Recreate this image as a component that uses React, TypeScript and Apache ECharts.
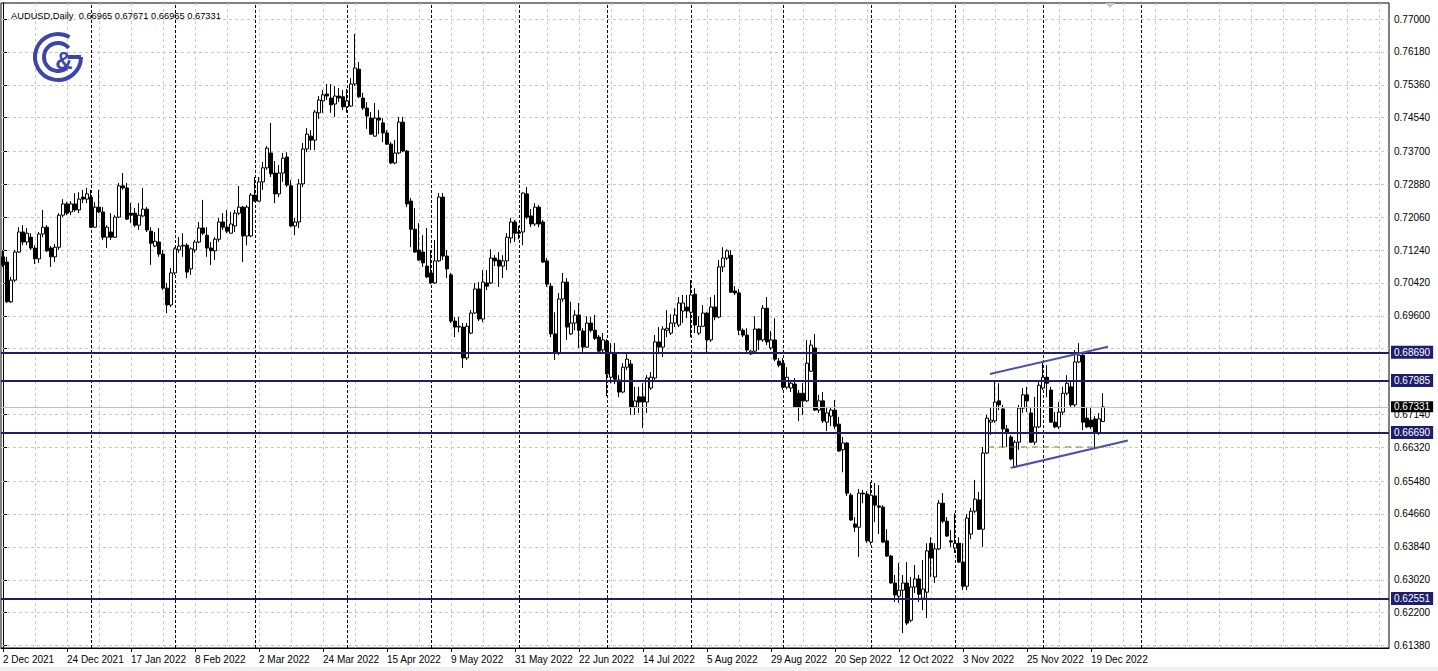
import React, { useEffect, useRef } from "react";
import * as echarts from "echarts";

const FONT = "'Liberation Sans', Arial, sans-serif";

const symbolTitle = "AUDUSD,Daily";
const lastQuote = [0.66965, 0.67671, 0.66965, 0.67331];

// Daily bars from 2 Dec 2021, one per weekday: [open, high, low, close]
const ohlc: number[][] = [
  [0.7107, 0.7124, 0.7082, 0.7087], [0.7094, 0.7107, 0.6992, 0.6995], [0.6995, 0.7057, 0.6992, 0.7049], [0.7049, 0.7124, 0.7044, 0.7119],
  [0.7119, 0.7181, 0.7117, 0.7169], [0.7169, 0.7186, 0.7136, 0.7144], [0.7144, 0.7179, 0.7136, 0.7166], [0.7156, 0.7166, 0.7124, 0.7129],
  [0.7129, 0.7136, 0.7089, 0.7102], [0.7102, 0.7169, 0.7092, 0.7164], [0.7164, 0.7224, 0.7156, 0.7181], [0.7181, 0.7186, 0.7119, 0.7122],
  [0.7129, 0.7134, 0.7082, 0.7107], [0.7107, 0.7139, 0.7094, 0.7131], [0.7131, 0.7216, 0.7124, 0.7211], [0.7211, 0.7251, 0.7206, 0.7239],
  [0.7239, 0.7244, 0.7211, 0.7216], [0.7219, 0.7246, 0.7211, 0.7239], [0.7239, 0.7266, 0.7219, 0.7224], [0.7224, 0.7268, 0.7216, 0.7251],
  [0.7256, 0.7274, 0.7241, 0.7251], [0.7251, 0.7279, 0.7241, 0.7264], [0.7256, 0.7274, 0.7179, 0.7181], [0.7181, 0.7244, 0.7179, 0.7231],
  [0.7231, 0.7274, 0.7216, 0.7219], [0.7219, 0.7231, 0.7149, 0.7156], [0.7156, 0.7186, 0.7129, 0.7181], [0.7169, 0.7216, 0.7149, 0.7156],
  [0.7156, 0.7211, 0.7154, 0.7206], [0.7206, 0.7291, 0.7204, 0.7284], [0.7284, 0.7316, 0.7274, 0.7279], [0.7279, 0.7291, 0.7199, 0.7201],
  [0.7216, 0.7241, 0.7191, 0.7211], [0.7216, 0.7229, 0.7181, 0.7186], [0.7186, 0.7241, 0.7174, 0.7211], [0.7209, 0.7279, 0.7206, 0.7226],
  [0.7226, 0.7231, 0.7169, 0.7174], [0.7171, 0.7181, 0.7087, 0.7141], [0.7134, 0.7169, 0.7131, 0.7146], [0.7144, 0.7179, 0.7107, 0.7114],
  [0.7114, 0.7124, 0.7024, 0.7029], [0.7029, 0.7042, 0.6967, 0.6987], [0.6987, 0.7079, 0.6982, 0.7067], [0.7067, 0.7131, 0.7062, 0.7127],
  [0.7124, 0.7156, 0.7117, 0.7134], [0.7134, 0.7166, 0.7107, 0.7136], [0.7136, 0.7141, 0.7054, 0.7069], [0.7077, 0.7131, 0.7062, 0.7127],
  [0.7124, 0.7149, 0.7117, 0.7144], [0.7144, 0.7194, 0.7141, 0.7179], [0.7179, 0.7249, 0.7161, 0.7166], [0.7161, 0.7181, 0.7107, 0.7129],
  [0.7129, 0.7144, 0.7087, 0.7122], [0.7122, 0.7156, 0.7099, 0.7151], [0.7151, 0.7204, 0.7144, 0.7194], [0.7194, 0.7216, 0.7174, 0.7181],
  [0.7181, 0.7224, 0.7166, 0.7171], [0.7166, 0.7219, 0.7166, 0.7189], [0.7184, 0.7224, 0.7169, 0.7216], [0.7216, 0.7284, 0.7211, 0.7231],
  [0.7231, 0.7234, 0.7094, 0.7159], [0.7159, 0.7236, 0.7136, 0.7231], [0.7159, 0.7266, 0.7156, 0.7261], [0.7261, 0.7306, 0.7244, 0.7246],
  [0.7246, 0.7306, 0.7244, 0.7294], [0.7294, 0.7344, 0.7274, 0.7329], [0.7329, 0.7383, 0.7324, 0.7378], [0.7366, 0.7441, 0.7306, 0.7314],
  [0.7316, 0.7346, 0.7241, 0.7264], [0.7264, 0.7336, 0.7256, 0.7316], [0.7316, 0.7366, 0.7294, 0.7353], [0.7356, 0.7368, 0.7281, 0.7286],
  [0.7284, 0.7299, 0.7181, 0.7184], [0.7184, 0.7204, 0.7161, 0.7194], [0.7194, 0.7301, 0.7179, 0.7289], [0.7289, 0.7391, 0.7281, 0.7376],
  [0.7376, 0.7428, 0.7368, 0.7413], [0.7408, 0.7423, 0.7373, 0.7398], [0.7398, 0.7473, 0.7373, 0.7468], [0.7466, 0.7508, 0.7451, 0.7498],
  [0.7496, 0.7523, 0.7466, 0.7511], [0.7513, 0.7538, 0.7498, 0.7508], [0.7503, 0.7538, 0.7466, 0.7486], [0.7488, 0.7533, 0.7456, 0.7508],
  [0.7508, 0.7528, 0.7493, 0.7503], [0.7506, 0.7523, 0.7473, 0.7481], [0.7481, 0.7526, 0.7466, 0.7496], [0.7483, 0.7553, 0.7481, 0.7538],
  [0.7538, 0.7663, 0.7533, 0.7578], [0.7575, 0.7593, 0.7503, 0.7506], [0.7503, 0.7516, 0.7473, 0.7478], [0.7478, 0.7493, 0.7426, 0.7458],
  [0.7453, 0.7468, 0.7411, 0.7413], [0.7408, 0.7491, 0.7406, 0.7453], [0.7453, 0.7473, 0.7413, 0.7448], [0.7441, 0.7453, 0.7393, 0.7416],
  [0.7416, 0.7423, 0.7386, 0.7388], [0.7388, 0.7393, 0.7338, 0.7341], [0.7341, 0.7398, 0.7338, 0.7366], [0.7366, 0.7456, 0.7363, 0.7443],
  [0.7443, 0.7456, 0.7368, 0.7371], [0.7371, 0.7373, 0.7231, 0.7239], [0.7246, 0.7254, 0.7131, 0.7176], [0.7176, 0.7229, 0.7117, 0.7119],
  [0.7124, 0.7191, 0.7097, 0.7099], [0.7119, 0.7161, 0.7082, 0.7092], [0.7084, 0.7179, 0.7054, 0.7057], [0.7067, 0.7124, 0.7039, 0.7042],
  [0.7042, 0.7149, 0.7040, 0.7097], [0.7097, 0.7266, 0.7094, 0.7256], [0.7256, 0.7266, 0.7099, 0.7109], [0.7109, 0.7124, 0.7054, 0.7077],
  [0.7062, 0.7067, 0.6942, 0.6947], [0.6947, 0.6957, 0.6907, 0.6932], [0.6932, 0.6957, 0.6919, 0.6934], [0.6932, 0.6942, 0.6830, 0.6855],
  [0.6855, 0.6942, 0.6850, 0.6934], [0.6917, 0.6974, 0.6914, 0.6967], [0.6967, 0.7042, 0.6965, 0.7027], [0.7027, 0.7044, 0.6947, 0.6952],
  [0.6952, 0.7074, 0.6944, 0.7044], [0.7042, 0.7074, 0.7024, 0.7034], [0.7042, 0.7126, 0.7039, 0.7104], [0.7104, 0.7111, 0.7084, 0.7097],
  [0.7099, 0.7119, 0.7032, 0.7084], [0.7084, 0.7111, 0.7054, 0.7097], [0.7097, 0.7166, 0.7074, 0.7156], [0.7154, 0.7204, 0.7141, 0.7194],
  [0.7194, 0.7199, 0.7144, 0.7166], [0.7169, 0.7184, 0.7151, 0.7166], [0.7169, 0.7268, 0.7136, 0.7266], [0.7264, 0.7281, 0.7201, 0.7206],
  [0.7209, 0.7226, 0.7181, 0.7189], [0.7189, 0.7241, 0.7184, 0.7231], [0.7231, 0.7236, 0.7181, 0.7189], [0.7194, 0.7199, 0.7092, 0.7094],
  [0.7097, 0.7104, 0.7032, 0.7039], [0.7034, 0.7042, 0.6907, 0.6915], [0.6915, 0.6969, 0.6850, 0.6867], [0.6867, 0.7017, 0.6862, 0.7002],
  [0.7002, 0.7067, 0.6995, 0.7044], [0.7044, 0.7054, 0.6900, 0.6932], [0.6915, 0.6995, 0.6912, 0.6942], [0.6942, 0.6974, 0.6924, 0.6962],
  [0.6962, 0.6992, 0.6880, 0.6924], [0.6922, 0.6929, 0.6870, 0.6882], [0.6882, 0.6959, 0.6880, 0.6942], [0.6942, 0.6957, 0.6919, 0.6924],
  [0.6924, 0.6962, 0.6900, 0.6904], [0.6907, 0.6912, 0.6870, 0.6872], [0.6875, 0.6917, 0.6867, 0.6900], [0.6897, 0.6902, 0.6760, 0.6815],
  [0.6807, 0.6892, 0.6792, 0.6867], [0.6867, 0.6892, 0.6790, 0.6802], [0.6800, 0.6812, 0.6757, 0.6770], [0.6770, 0.6842, 0.6767, 0.6832],
  [0.6832, 0.6867, 0.6825, 0.6852], [0.6840, 0.6850, 0.6713, 0.6733], [0.6733, 0.6783, 0.6713, 0.6748], [0.6758, 0.6783, 0.6718, 0.6745],
  [0.6758, 0.6792, 0.6680, 0.6745], [0.6745, 0.6812, 0.6718, 0.6805], [0.6780, 0.6820, 0.6775, 0.6807], [0.6805, 0.6912, 0.6800, 0.6895],
  [0.6895, 0.6932, 0.6867, 0.6882], [0.6882, 0.6934, 0.6857, 0.6927], [0.6924, 0.6974, 0.6907, 0.6929], [0.6917, 0.6964, 0.6912, 0.6942],
  [0.6942, 0.6979, 0.6932, 0.6962], [0.6937, 0.7007, 0.6932, 0.6992], [0.6972, 0.7012, 0.6942, 0.6992], [0.6982, 0.7012, 0.6954, 0.6972],
  [0.6969, 0.7049, 0.6907, 0.7012], [0.7014, 0.7029, 0.6917, 0.6937], [0.6917, 0.6959, 0.6912, 0.6934], [0.6934, 0.6987, 0.6932, 0.6967],
  [0.6967, 0.6969, 0.6867, 0.6900], [0.6900, 0.7007, 0.6895, 0.6982], [0.6982, 0.7012, 0.6949, 0.6957], [0.6957, 0.7099, 0.6954, 0.7082],
  [0.7082, 0.7131, 0.7069, 0.7104], [0.7104, 0.7126, 0.7099, 0.7122], [0.7111, 0.7124, 0.7017, 0.7019], [0.7022, 0.7034, 0.7012, 0.7017],
  [0.7017, 0.7027, 0.6912, 0.6924], [0.6924, 0.6929, 0.6907, 0.6912], [0.6912, 0.6929, 0.6870, 0.6875], [0.6865, 0.6875, 0.6862, 0.6872],
  [0.6872, 0.6959, 0.6867, 0.6927], [0.6927, 0.6929, 0.6875, 0.6900], [0.6900, 0.6987, 0.6895, 0.6979], [0.6979, 0.7007, 0.6887, 0.6895],
  [0.6880, 0.6922, 0.6875, 0.6900], [0.6900, 0.6954, 0.6847, 0.6852], [0.6847, 0.6855, 0.6832, 0.6837], [0.6842, 0.6855, 0.6775, 0.6782],
  [0.6782, 0.6832, 0.6777, 0.6807], [0.6780, 0.6800, 0.6770, 0.6792], [0.6790, 0.6805, 0.6730, 0.6733], [0.6767, 0.6775, 0.6698, 0.6733],
  [0.6767, 0.6792, 0.6713, 0.6748], [0.6748, 0.6900, 0.6745, 0.6842], [0.6822, 0.6900, 0.6820, 0.6887], [0.6880, 0.6915, 0.6723, 0.6725],
  [0.6725, 0.6763, 0.6718, 0.6748], [0.6748, 0.6770, 0.6693, 0.6698], [0.6695, 0.6733, 0.6673, 0.6718], [0.6710, 0.6733, 0.6685, 0.6725],
  [0.6725, 0.6750, 0.6678, 0.6685], [0.6690, 0.6708, 0.6621, 0.6623], [0.6626, 0.6658, 0.6570, 0.6643], [0.6643, 0.6645, 0.6511, 0.6518],
  [0.6513, 0.6518, 0.6449, 0.6451], [0.6441, 0.6458, 0.6421, 0.6433], [0.6433, 0.6528, 0.6359, 0.6518], [0.6518, 0.6526, 0.6493, 0.6516],
  [0.6516, 0.6523, 0.6394, 0.6399], [0.6396, 0.6546, 0.6389, 0.6513], [0.6511, 0.6543, 0.6446, 0.6488], [0.6486, 0.6538, 0.6416, 0.6483],
  [0.6483, 0.6488, 0.6394, 0.6396], [0.6399, 0.6428, 0.6359, 0.6361], [0.6361, 0.6364, 0.6292, 0.6294], [0.6294, 0.6314, 0.6247, 0.6264],
  [0.6261, 0.6344, 0.6244, 0.6276], [0.6276, 0.6314, 0.6169, 0.6294], [0.6294, 0.6346, 0.6189, 0.6194], [0.6201, 0.6309, 0.6196, 0.6284],
  [0.6284, 0.6339, 0.6269, 0.6304], [0.6304, 0.6314, 0.6247, 0.6266], [0.6256, 0.6351, 0.6226, 0.6279], [0.6271, 0.6393, 0.6207, 0.6374],
  [0.6393, 0.6408, 0.6309, 0.6356], [0.6309, 0.6393, 0.6294, 0.6379], [0.6379, 0.6501, 0.6376, 0.6493], [0.6493, 0.6518, 0.6443, 0.6448],
  [0.6448, 0.6458, 0.6409, 0.6411], [0.6399, 0.6426, 0.6384, 0.6396], [0.6381, 0.6468, 0.6369, 0.6393], [0.6393, 0.6408, 0.6344, 0.6346],
  [0.6346, 0.6393, 0.6276, 0.6286], [0.6286, 0.6466, 0.6276, 0.6456], [0.6416, 0.6481, 0.6403, 0.6473], [0.6473, 0.6551, 0.6468, 0.6503],
  [0.6501, 0.6521, 0.6426, 0.6428], [0.6428, 0.6633, 0.6384, 0.6618], [0.6618, 0.6713, 0.6616, 0.6705], [0.6695, 0.6733, 0.6663, 0.6700],
  [0.6698, 0.6795, 0.6693, 0.6745], [0.6748, 0.6792, 0.6725, 0.6738], [0.6728, 0.6738, 0.6631, 0.6678], [0.6678, 0.6688, 0.6633, 0.6670],
  [0.6658, 0.6663, 0.6600, 0.6603], [0.6583, 0.6650, 0.6580, 0.6645], [0.6645, 0.6738, 0.6626, 0.6730], [0.6730, 0.6780, 0.6718, 0.6763],
  [0.6763, 0.6783, 0.6720, 0.6748], [0.6718, 0.6730, 0.6643, 0.6645], [0.6645, 0.6758, 0.6638, 0.6683], [0.6683, 0.6800, 0.6680, 0.6787],
  [0.6780, 0.6845, 0.6775, 0.6807], [0.6807, 0.6837, 0.6757, 0.6792], [0.6775, 0.6783, 0.6693, 0.6695], [0.6695, 0.6720, 0.6680, 0.6683],
  [0.6683, 0.6745, 0.6678, 0.6720], [0.6720, 0.6783, 0.6713, 0.6767], [0.6767, 0.6812, 0.6762, 0.6792], [0.6783, 0.6795, 0.6733, 0.6738],
  [0.6738, 0.6875, 0.6733, 0.6845], [0.6845, 0.6892, 0.6842, 0.6862], [0.6862, 0.6867, 0.6675, 0.6695], [0.6705, 0.6733, 0.6680, 0.6683],
  [0.6700, 0.6733, 0.6678, 0.6683], [0.6703, 0.6710, 0.6629, 0.6668], [0.6668, 0.6718, 0.6663, 0.6703], lastQuote,
];

const priceTicks = [
  0.77, 0.7618, 0.7536, 0.7454, 0.737, 0.7288, 0.7206, 0.7124, 0.7042, 0.696,
  0.6878, 0.6796, 0.6714, 0.6632, 0.6548, 0.6466, 0.6384, 0.6302, 0.622, 0.6138,
];
const coveredTickLabels = [0.6878, 0.6796];

const levelLines = [0.6869, 0.67985, 0.6669, 0.62551];
const currentPrice = 0.67331;

const channelUpper = [[246.75, 0.6815], [276.25, 0.6883]];
const channelLower = [[251.9, 0.6581], [281.2, 0.6649]];
const supportDash = [[246.25, 0.6633], [276.75, 0.6633]];

const MONTHS = ["Jan", "Feb", "Mar", "Apr", "May", "Jun", "Jul", "Aug", "Sep", "Oct", "Nov", "Dec"];
const TOTAL_SLOTS = 347;
const LABEL_EVERY = 16;
const GRID_EVERY = 8;
const FUTURE_SEPARATOR = 284.5;

function buildDates(n: number) {
  const out: { label: string; month: number }[] = [];
  const d = new Date(Date.UTC(2021, 11, 2));
  while (out.length < n) {
    const wd = d.getUTCDay();
    if (wd !== 0 && wd !== 6) {
      out.push({ label: `${d.getUTCDate()} ${MONTHS[d.getUTCMonth()]} ${d.getUTCFullYear()}`, month: d.getUTCMonth() });
    }
    d.setUTCDate(d.getUTCDate() + 1);
  }
  return out;
}

const NAVY = "#1e1e6e";
const LOGO = "#3d46a8";

export default function App() {
  const ref = useRef<HTMLDivElement>(null);
  useEffect(() => {
    if (!ref.current) return;
    const chart = echarts.init(ref.current, null, { renderer: "svg" });
    const dates = buildDates(TOTAL_SLOTS);
    const lastIdx = ohlc.length - 1;
    const lastLabelIdx = Math.floor(lastIdx / LABEL_EVERY) * LABEL_EVERY;
    const labelInterval = (idx: number) => idx % LABEL_EVERY === 0 && idx <= lastLabelIdx;

    const separators: number[] = [];
    for (let i = 1; i <= lastIdx; i++) if (dates[i].month !== dates[i - 1].month) separators.push(i);
    separators.push(FUTURE_SEPARATOR);

    const gridMarks: any[] = [];
    priceTicks.forEach((v) =>
      gridMarks.push({ yAxis: v, lineStyle: { color: "#c8c8c8", width: 1, type: [3, 3] } })
    );
    for (let v = GRID_EVERY; v < TOTAL_SLOTS; v += GRID_EVERY) {
      if (separators.includes(v)) continue;
      gridMarks.push({ xAxis: v, lineStyle: { color: "#c8c8c8", width: 1, type: [3, 3] } });
    }
    separators.forEach((v) =>
      gridMarks.push({ xAxis: v, lineStyle: { color: "#000", width: 1, type: [3, 2] } })
    );

    const levelMarks: any[] = levelLines.map((v) => ({
      yAxis: v,
      lineStyle: { color: NAVY, width: 2, type: "solid" },
      label: {
        show: true, position: "end", distance: 2, formatter: v.toFixed(5),
        backgroundColor: NAVY, color: "#fff", padding: [2, 3, 1, 3], fontSize: 10, fontFamily: FONT,
      },
    }));
    levelMarks.unshift({
      yAxis: currentPrice,
      lineStyle: { color: "#c0c0c0", width: 1, type: "solid" },
      label: {
        show: true, position: "end", distance: 2, formatter: currentPrice.toFixed(5),
        backgroundColor: "#000", color: "#fff", padding: [1, 3, 0, 3], fontSize: 10, fontFamily: FONT,
      },
    });

    const labelTicks = priceTicks.filter((v) => !coveredTickLabels.includes(v));

    chart.setOption({
      animation: false,
      backgroundColor: "#fff",
      title: {
        text: `${symbolTitle}  ${lastQuote.map((v) => v.toFixed(5)).join(" ")}`,
        left: 6, top: 6,
        textStyle: { fontSize: 9.3, fontWeight: "normal", color: "#000", fontFamily: FONT },
      },
      grid: { left: 1, top: 3, width: 1388, height: 645, show: true, borderColor: "#000", borderWidth: 1, backgroundColor: "#fff" },
      xAxis: [
        {
          type: "category",
          data: dates.map((d) => d.label),
          boundaryGap: true,
          axisLine: { show: true, lineStyle: { color: "#000" } },
          axisTick: { show: true, alignWithLabel: true, interval: labelInterval, length: 4, lineStyle: { color: "#000" } },
          axisLabel: { interval: labelInterval, align: "left", fontSize: 10, color: "#000", margin: 6, fontFamily: FONT },
          splitLine: { show: false },
        },
        { type: "value", min: -0.5, max: TOTAL_SLOTS - 0.5, show: false, splitLine: { show: false } },
      ],
      yAxis: {
        type: "value",
        position: "right",
        min: 0.61319,
        max: 0.77399,
        axisLine: { show: true, lineStyle: { color: "#000" } },
        axisTick: { show: true, length: 4, lineStyle: { color: "#000" }, customValues: priceTicks },
        axisLabel: {
          customValues: labelTicks, formatter: (v: number) => v.toFixed(5),
          fontSize: 10, color: "#000", margin: 5, fontFamily: FONT,
        },
        splitLine: { show: false },
      },
      graphic: [
        { type: "arc", shape: { cx: 58, cy: 57, r: 23, startAngle: 0, endAngle: (300 * Math.PI) / 180, clockwise: true }, style: { stroke: LOGO, lineWidth: 4, fill: "none" }, z: 10 },
        { type: "line", shape: { x1: 68, y1: 57, x2: 81, y2: 57 }, style: { stroke: LOGO, lineWidth: 4 }, z: 10 },
        { type: "arc", shape: { cx: 58, cy: 57, r: 14, startAngle: (50 * Math.PI) / 180, endAngle: (320 * Math.PI) / 180, clockwise: true }, style: { stroke: LOGO, lineWidth: 4, fill: "none" }, z: 10 },
        { type: "text", x: 64, y: 60, style: { text: "&", fill: LOGO, fontSize: 24, fontWeight: "bold", fontFamily: FONT, align: "center", verticalAlign: "middle" }, z: 10 },
        { type: "polygon", shape: { points: [[1105, 3], [1115, 3], [1110, 8]] }, style: { fill: "#c8c8c8" }, z: 10 },
        { type: "rect", shape: { x: 0, y: 667, width: 1438, height: 4 }, style: { fill: "#f0f0f0" }, z: 10 },
      ],
      series: [
        {
          name: "grid", type: "line", xAxisIndex: 1, yAxisIndex: 0, data: [], silent: true, z: 1,
          markLine: { silent: true, precision: 6, symbol: ["none", "none"], z: 1, label: { show: false }, animation: false, data: gridMarks },
        },
        {
          name: "AUDUSD", type: "candlestick", xAxisIndex: 0, yAxisIndex: 0, z: 3, barWidth: 3,
          data: ohlc.map(([o, h, l, c]) => [o, c, l, h]),
          itemStyle: { color: "#fff", color0: "#000", borderColor: "#000", borderColor0: "#000", borderWidth: 1 },
          emphasis: { disabled: true },
        },
        {
          name: "levels", type: "line", xAxisIndex: 1, yAxisIndex: 0, data: [], silent: true, z: 5,
          markLine: { silent: true, precision: 6, symbol: ["none", "none"], z: 5, animation: false, data: levelMarks },
        },
        {
          name: "upper", type: "line", xAxisIndex: 1, yAxisIndex: 0, data: channelUpper, symbol: "none", silent: true, z: 6,
          lineStyle: { color: "#4f4fa8", width: 2 },
        },
        {
          name: "lower", type: "line", xAxisIndex: 1, yAxisIndex: 0, data: channelLower, symbol: "none", silent: true, z: 6,
          lineStyle: { color: "#4f4fa8", width: 2 },
        },
        {
          name: "support", type: "line", xAxisIndex: 1, yAxisIndex: 0, data: supportDash, symbol: "none", silent: true, z: 6,
          lineStyle: { color: "#6b8e23", width: 1, type: [6, 5] },
        },
      ],
    });
    return () => chart.dispose();
  }, []);
  return <div ref={ref} style={{ position: "fixed", left: 0, top: 0, width: 1438, height: 671, background: "#fff" }} />;
}
